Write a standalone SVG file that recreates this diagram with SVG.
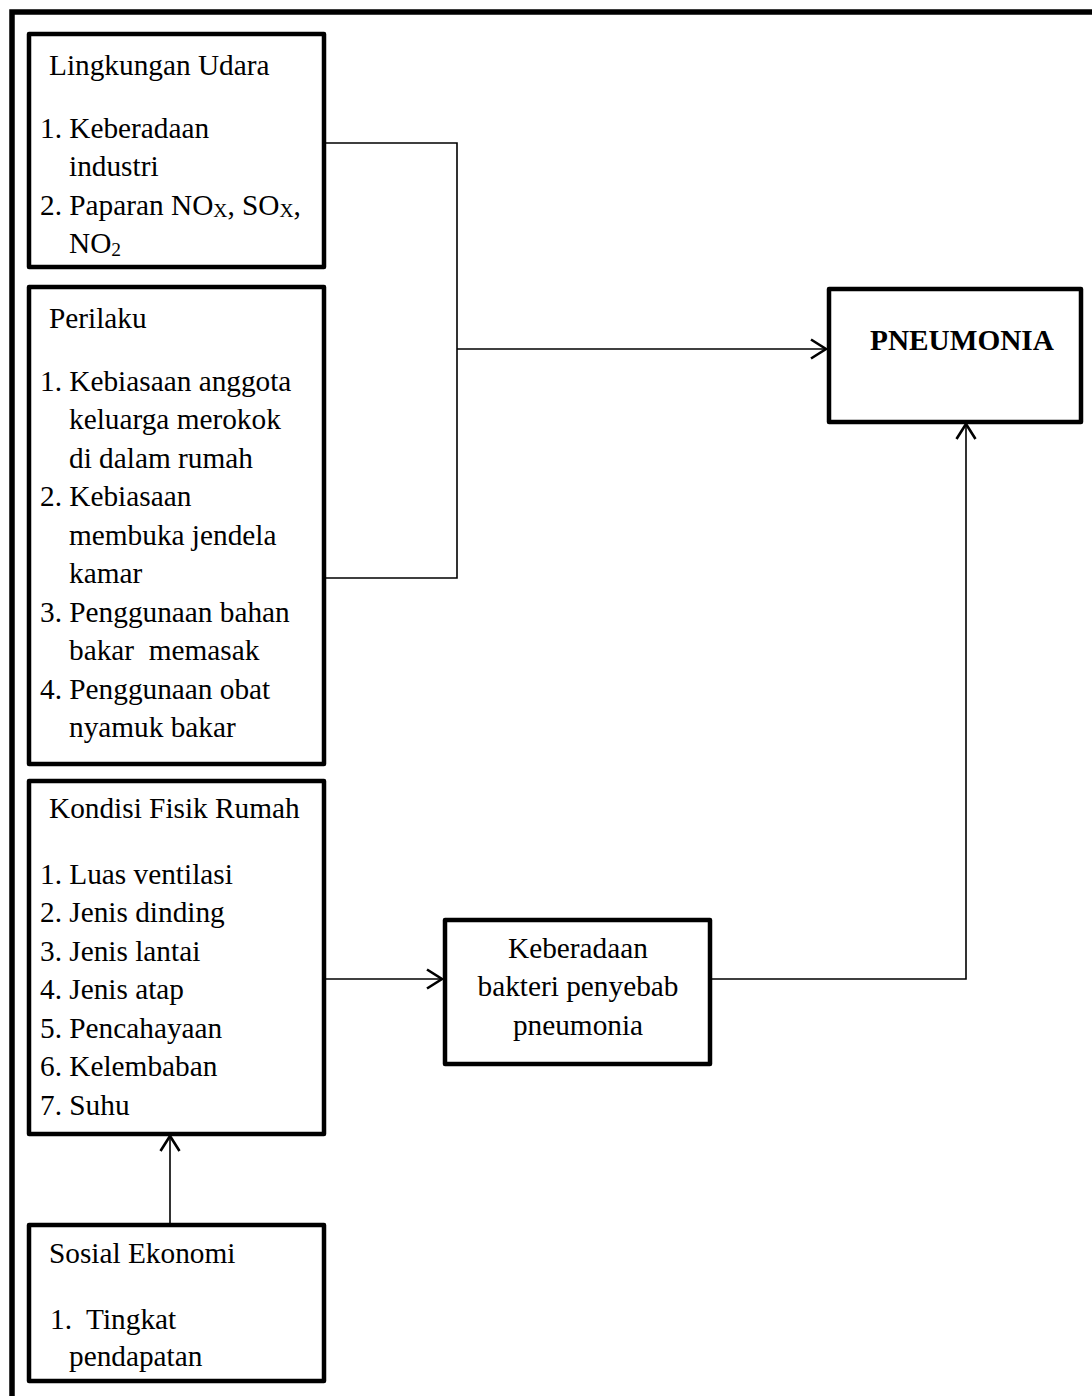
<svg xmlns="http://www.w3.org/2000/svg" width="1092" height="1396" viewBox="0 0 1092 1396">
<style>
.box{fill:#fff;stroke:#000;stroke-width:4.5;stroke-linejoin:round}
.t{font-family:"Liberation Serif","Times New Roman",serif;font-size:29.3px;fill:#000}
.b{font-weight:bold}
.c{fill:none;stroke:#000;stroke-width:1.6}
.sub{font-size:19.5px}
</style>
<defs>
<marker id="ah" markerUnits="userSpaceOnUse" markerWidth="20" markerHeight="24" refX="16" refY="10" orient="auto" viewBox="0 0 20 20">
<path d="M1,0.5 L16,10 L1,19.5" fill="none" stroke="#000" stroke-width="2.6"/>
</marker>
</defs>
<rect x="12" y="12" width="1100" height="1400" fill="none" stroke="#000" stroke-width="5.5"/>
<g id="connectors">
<polyline class="c" points="325,143 457,143 457,578 325,578"/>
<line class="c" x1="457" y1="349" x2="826" y2="349" marker-end="url(#ah)"/>
<line class="c" x1="325" y1="979" x2="442" y2="979" marker-end="url(#ah)"/>
<polyline class="c" points="712,979 966,979 966,424" marker-end="url(#ah)"/>
<line class="c" x1="170" y1="1223" x2="170" y2="1136" marker-end="url(#ah)"/>
</g>
<g id="lingkungan-udara">
<rect class="box" x="29" y="34" width="295" height="233"/>
<text class="t" x="49" y="75">Lingkungan Udara</text>
<text class="t" x="40" y="138">1. Keberadaan</text>
<text class="t" x="69" y="176">industri</text>
<text class="t" x="40" y="215">2. Paparan NO<tspan class="sub" dy="2">X</tspan><tspan dy="-2">, SO</tspan><tspan class="sub" dy="2">X</tspan><tspan dy="-2">,</tspan></text>
<text class="t" x="69" y="253">NO<tspan class="sub" dy="3">2</tspan></text>
</g>
<g id="perilaku">
<rect class="box" x="29" y="287" width="295" height="477"/>
<text class="t" x="49" y="328">Perilaku</text>
<text class="t" x="40" y="391">1. Kebiasaan anggota</text>
<text class="t" x="69" y="429">keluarga merokok</text>
<text class="t" x="69" y="468">di dalam rumah</text>
<text class="t" x="40" y="506">2. Kebiasaan</text>
<text class="t" x="69" y="545">membuka jendela</text>
<text class="t" x="69" y="583">kamar</text>
<text class="t" x="40" y="622">3. Penggunaan bahan</text>
<text class="t" x="69" y="660" xml:space="preserve">bakar  memasak</text>
<text class="t" x="40" y="699">4. Penggunaan obat</text>
<text class="t" x="69" y="737">nyamuk bakar</text>
</g>
<g id="kondisi-fisik-rumah">
<rect class="box" x="29" y="781" width="295" height="353"/>
<text class="t" x="49" y="818">Kondisi Fisik Rumah</text>
<text class="t" x="40" y="884">1. Luas ventilasi</text>
<text class="t" x="40" y="922">2. Jenis dinding</text>
<text class="t" x="40" y="961">3. Jenis lantai</text>
<text class="t" x="40" y="999">4. Jenis atap</text>
<text class="t" x="40" y="1038">5. Pencahayaan</text>
<text class="t" x="40" y="1076">6. Kelembaban</text>
<text class="t" x="40" y="1115">7. Suhu</text>
</g>
<g id="sosial-ekonomi">
<rect class="box" x="29" y="1225" width="295" height="156"/>
<text class="t" x="49" y="1263">Sosial Ekonomi</text>
<text class="t" x="50" y="1329" xml:space="preserve">1.  Tingkat</text>
<text class="t" x="69" y="1366">pendapatan</text>
</g>
<g id="keberadaan-bakteri">
<rect class="box" x="445" y="920" width="265" height="144"/>
<text class="t" x="578" y="958" text-anchor="middle">Keberadaan</text>
<text class="t" x="578" y="996" text-anchor="middle">bakteri penyebab</text>
<text class="t" x="578" y="1035" text-anchor="middle">pneumonia</text>
</g>
<g id="pneumonia">
<rect class="box" x="829" y="289" width="252" height="133"/>
<text class="t b" x="870" y="350">PNEUMONIA</text>
</g>
</svg>
